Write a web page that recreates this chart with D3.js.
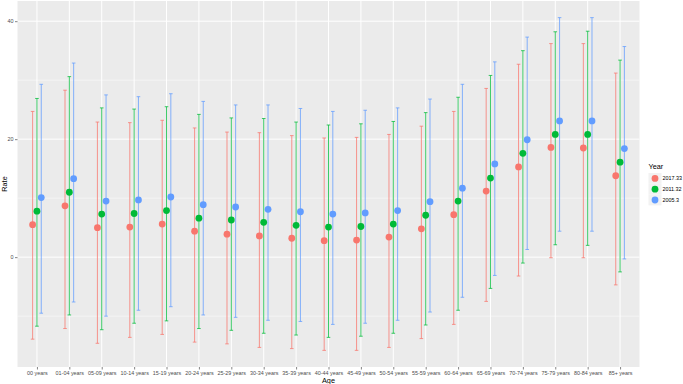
<!DOCTYPE html>
<html>
<head>
<meta charset="utf-8">
<script src="https://cdn.jsdelivr.net/npm/d3@7"></script>
<style>
  body { margin: 0; background: #fff; }
  text { font-family: "Liberation Sans", Arial, sans-serif; }
</style>
</head>
<body>
<svg id="chart" width="683" height="384"></svg>
<script>
var ages = ["00 years", "01-04 years", "05-09 years", "10-14 years", "15-19 years", "20-24 years",
    "25-29 years", "30-34 years", "35-39 years", "40-44 years", "45-49 years", "50-54 years",
    "55-59 years", "60-64 years", "65-69 years", "70-74 years", "75-79 years", "80-84 years", "85+ years"];
var years = ["2017.33", "2011.32", "2005.3"];

var rate2017 = [5.5, 8.7, 5.0, 5.1, 5.6, 4.4, 3.9, 3.6, 3.2, 2.8, 2.9, 3.4, 4.8, 7.2, 11.2, 15.3, 18.6, 18.5, 13.8];
var upper2017 = [24.7, 28.3, 22.9, 22.8, 23.2, 21.9, 21.2, 21.1, 20.6, 20.2, 20.3, 20.8, 22.2, 24.7, 28.6, 32.7, 36.2, 36.2, 31.2];
var lower2017 = [-13.9, -12.1, -14.6, -13.6, -13.1, -14.4, -14.7, -15.3, -15.5, -15.8, -15.8, -15.3, -13.8, -11.4, -7.5, -3.2, -0.1, -0.1, -4.7];

var rate2011 = [7.8, 11.0, 7.3, 7.4, 7.9, 6.6, 6.3, 5.9, 5.4, 5.1, 5.2, 5.6, 7.1, 9.5, 13.4, 17.6, 20.8, 20.8, 16.1];
var upper2011 = [26.9, 30.6, 25.3, 25.1, 25.5, 24.2, 23.6, 23.5, 22.9, 22.4, 22.6, 23.0, 24.5, 27.1, 30.8, 35.0, 38.2, 38.3, 33.4];
var lower2011 = [-11.7, -9.8, -12.3, -11.2, -10.8, -12.1, -12.4, -12.9, -13.2, -13.6, -13.4, -12.9, -11.5, -9.0, -5.3, -1.0, 2.1, 2.0, -2.5];

var rate2005 = [10.1, 13.3, 9.5, 9.7, 10.2, 8.9, 8.5, 8.1, 7.7, 7.3, 7.5, 7.9, 9.4, 11.7, 15.8, 19.9, 23.1, 23.1, 18.4];
var upper2005 = [29.3, 32.9, 27.5, 27.2, 27.7, 26.4, 25.8, 25.8, 25.2, 24.7, 24.9, 25.3, 26.8, 29.3, 33.1, 37.3, 40.6, 40.6, 35.7];
var lower2005 = [-9.5, -7.6, -10.0, -9.0, -8.4, -9.8, -10.2, -10.7, -10.9, -11.4, -11.2, -10.7, -9.3, -6.8, -3.1, 1.3, 4.4, 4.4, -0.3];

var yTicks = [0, 20, 40];
var yMinor = [-10, 10, 30];

// long table built from the arrays
var series = [
    { year: years[0], rate: rate2017, lo: lower2017, hi: upper2017 },
    { year: years[1], rate: rate2011, lo: lower2011, hi: upper2011 },
    { year: years[2], rate: rate2005, lo: lower2005, hi: upper2005 }
];
var data = [];
series.forEach(s => {
    ages.forEach((a, i) => data.push({ age: a, year: s.year, rate: s.rate[i], lo: s.lo[i], hi: s.hi[i] }));
});

var panel = { left: 17.5, right: 639.5, top: 1, bottom: 367 };

var svg = d3.select("#chart");

var x = d3.scalePoint().domain(ages).range([panel.left, panel.right]).padding(0.6);
var step = x.step();
var dodge = d3.scaleBand().domain(years).range([-0.2 * step, 0.2 * step]);

var lo = d3.min(data, d => d.lo), hi = d3.max(data, d => d.hi);
var pad = (hi - lo) * 0.05;
var y = d3.scaleLinear().domain([lo - pad, hi + pad]).range([panel.bottom, panel.top]);

var color = d3.scaleOrdinal().domain(years).range(["#F8766D", "#00BA38", "#619CFF"]);

// panel
svg.append("rect")
    .attr("x", panel.left).attr("y", panel.top)
    .attr("width", panel.right - panel.left).attr("height", panel.bottom - panel.top)
    .attr("fill", "#EBEBEB");

svg.append("g").selectAll("line").data(yMinor).join("line")
    .attr("x1", panel.left).attr("x2", panel.right)
    .attr("y1", d => y(d)).attr("y2", d => y(d))
    .attr("stroke", "#fff").attr("stroke-width", 0.5);

svg.append("g").selectAll("line").data(yTicks).join("line")
    .attr("x1", panel.left).attr("x2", panel.right)
    .attr("y1", d => y(d)).attr("y2", d => y(d))
    .attr("stroke", "#fff").attr("stroke-width", 1);

svg.append("g").selectAll("line").data(ages).join("line")
    .attr("x1", d => x(d)).attr("x2", d => x(d))
    .attr("y1", panel.top).attr("y2", panel.bottom)
    .attr("stroke", "#fff").attr("stroke-width", 1);

// error bars
var capW = 1.8;
var bars = svg.append("g").selectAll("g").data(data).join("g")
    .attr("stroke", d => color(d.year))
    .attr("stroke-width", 0.9)
    .attr("stroke-opacity", 0.85);
bars.append("line")
    .attr("x1", d => x(d.age) + dodge(d.year) + dodge.bandwidth() / 2)
    .attr("x2", d => x(d.age) + dodge(d.year) + dodge.bandwidth() / 2)
    .attr("y1", d => y(d.lo)).attr("y2", d => y(d.hi));
bars.append("line")
    .attr("x1", d => x(d.age) + dodge(d.year) + dodge.bandwidth() / 2 - capW)
    .attr("x2", d => x(d.age) + dodge(d.year) + dodge.bandwidth() / 2 + capW)
    .attr("y1", d => y(d.lo)).attr("y2", d => y(d.lo));
bars.append("line")
    .attr("x1", d => x(d.age) + dodge(d.year) + dodge.bandwidth() / 2 - capW)
    .attr("x2", d => x(d.age) + dodge(d.year) + dodge.bandwidth() / 2 + capW)
    .attr("y1", d => y(d.hi)).attr("y2", d => y(d.hi));

// points
svg.append("g").selectAll("circle").data(data).join("circle")
    .attr("cx", d => x(d.age) + dodge(d.year) + dodge.bandwidth() / 2)
    .attr("cy", d => y(d.rate))
    .attr("r", 3.4)
    .attr("fill", d => color(d.year));

// axes
var xAxis = svg.append("g")
    .attr("transform", "translate(0," + panel.bottom + ")")
    .call(d3.axisBottom(x).tickSize(2.5).tickPadding(1.8));
var yAxis = svg.append("g")
    .attr("transform", "translate(" + panel.left + ",0)")
    .call(d3.axisLeft(y).tickValues(yTicks).tickSize(2.5).tickPadding(1.5));
[xAxis, yAxis].forEach(a => {
    a.select(".domain").remove();
    a.selectAll(".tick line").attr("stroke", "#333333").attr("stroke-width", 0.6);
    a.selectAll(".tick text").attr("fill", "#4D4D4D").style("font-size", "5.4px")
        .style("font-family", "'Liberation Sans', Arial, sans-serif");
});

svg.append("text")
    .attr("x", (panel.left + panel.right) / 2).attr("y", 382.5)
    .attr("text-anchor", "middle").style("font-size", "7.3px").attr("fill", "#000")
    .text("Age");
svg.append("text")
    .attr("transform", "translate(7,0) rotate(-90)")
    .attr("x", -(panel.top + panel.bottom) / 2)
    .attr("text-anchor", "middle").style("font-size", "7.3px").attr("fill", "#000")
    .text("Rate");

// legend
var legend = svg.append("g").attr("transform", "translate(647,0)");
legend.append("text").attr("x", 1.5).attr("y", 169)
    .style("font-size", "7.3px").attr("fill", "#000").text("Year");
var keys = legend.selectAll("g.key").data(years).join("g")
    .attr("class", "key")
    .attr("transform", (d, i) => "translate(0," + (173 + i * 10.8) + ")");
keys.append("rect").attr("x", 1.5).attr("width", 13).attr("height", 10.8)
    .attr("fill", "#F2F2F2");
keys.append("circle").attr("cx", 8).attr("cy", 5.4).attr("r", 3.4)
    .attr("fill", d => color(d));
keys.append("text").attr("x", 15.5).attr("y", 7.4)
    .style("font-size", "5.4px").attr("fill", "#000").text(d => d);
</script>
</body>
</html>
